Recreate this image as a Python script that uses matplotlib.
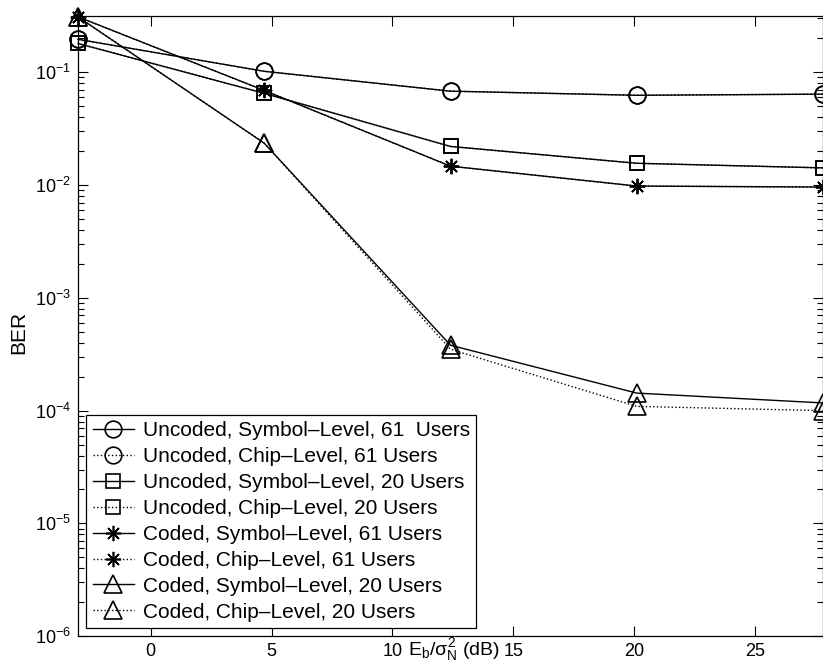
import matplotlib
matplotlib.use("Agg")
import matplotlib.pyplot as plt
import numpy as np
from matplotlib.ticker import LogLocator, NullFormatter

plt.rcParams['font.family'] = ['Liberation Sans', 'DejaVu Sans']
plt.rcParams['mathtext.fontset'] = 'custom'
plt.rcParams['mathtext.rm'] = 'Liberation Sans'
plt.rcParams['mathtext.it'] = 'Liberation Sans'
plt.rcParams['mathtext.bf'] = 'Liberation Sans:bold'

# Eb/sigma_N^2 (dB)
snr = [-3, 4.7, 12.4, 20.1, 27.8]

# BER values
unc_sym_61 = [0.196, 0.102, 0.068, 0.0625, 0.064]
unc_chip_61 = [0.196, 0.102, 0.068, 0.0625, 0.064]
unc_sym_20 = [0.18, 0.065, 0.022, 0.0156, 0.0142]
unc_chip_20 = [0.18, 0.065, 0.022, 0.0156, 0.0142]
cod_sym_61 = [0.31, 0.069, 0.0147, 0.0098, 0.0096]
cod_chip_61 = [0.31, 0.069, 0.0147, 0.0098, 0.0096]
cod_sym_20 = [0.31, 0.0235, 3.8e-4, 1.43e-4, 1.17e-4]
cod_chip_20 = [0.31, 0.0235, 3.5e-4, 1.09e-4, 1.0e-4]

labels = ["Uncoded, Symbol\u2013Level, 61  Users",
          "Uncoded, Chip\u2013Level, 61 Users",
          "Uncoded, Symbol\u2013Level, 20 Users",
          "Uncoded, Chip\u2013Level, 20 Users",
          "Coded, Symbol\u2013Level, 61 Users",
          "Coded, Chip\u2013Level, 61 Users",
          "Coded, Symbol\u2013Level, 20 Users",
          "Coded, Chip\u2013Level, 20 Users"]

series = [unc_sym_61, unc_chip_61, unc_sym_20, unc_chip_20,
          cod_sym_61, cod_chip_61, cod_sym_20, cod_chip_20]
markers = ['o', 'o', 's', 's', (8, 2, 0), (8, 2, 0), '^', '^']
msizes = [12, 12, 10, 10, 11, 11, 13, 13]
styles = ['-', ':', '-', ':', '-', ':', '-', ':']

fig = plt.figure(figsize=(8.23, 6.62), dpi=100)
ax = fig.add_axes([0.0948, 0.039, 0.9052, 0.937])

for yv, m, ms, ls, lab in zip(series, markers, msizes, styles, labels):
    ax.semilogy(snr, yv, linestyle=ls, color='black', linewidth=1.0,
                marker=m, markersize=ms, markerfacecolor='none',
                markeredgecolor='black', markeredgewidth=1.2,
                label=lab, clip_on=False)

ax.set_xlim(-3, 27.8)
ax.set_ylim(1e-6, 10 ** -0.5)
ax.set_xticks([0, 5, 10, 15, 20, 25])
ax.yaxis.set_major_locator(LogLocator(base=10, numticks=10))
ax.yaxis.set_minor_locator(LogLocator(base=10, subs=np.arange(2, 10), numticks=20))
ax.yaxis.set_minor_formatter(NullFormatter())

ax.tick_params(which='both', direction='in', top=True, right=True,
               labelsize=13, width=0.8)
ax.tick_params(which='major', length=7, pad=5)
ax.tick_params(which='minor', length=4)
for s in ax.spines.values():
    s.set_linewidth(0.9)

ax.set_ylabel("BER", fontsize=15)
ax.yaxis.set_label_coords(-0.067, 0.49)
ax.set_xlabel(r"E$_\mathrm{b}$/$\sigma^2_\mathrm{N}$ (dB)", fontsize=14)
ax.xaxis.set_label_coords(0.505, 0.0)

leg = ax.legend(loc='lower left', fontsize=15, frameon=True, fancybox=False,
                edgecolor='black', framealpha=1, borderaxespad=0.4,
                handlelength=2.0, handletextpad=0.4, labelspacing=0.33,
                borderpad=0.3)
leg.get_frame().set_linewidth(0.9)

fig.savefig("out.png", dpi=100)
